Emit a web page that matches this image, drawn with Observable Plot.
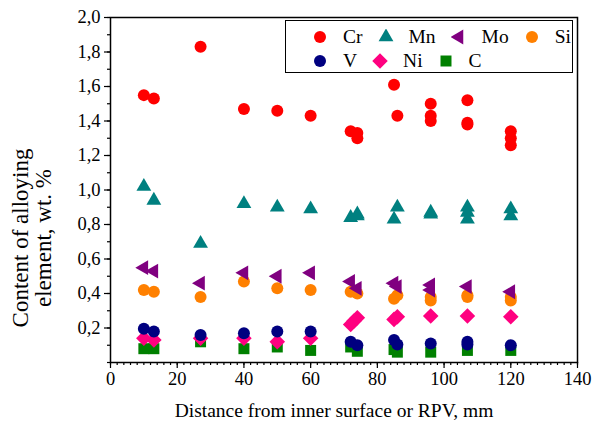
<!DOCTYPE html>
<html>
<head>
<meta charset="utf-8">
<script src="https://cdn.jsdelivr.net/npm/d3@7"></script>
<script src="https://cdn.jsdelivr.net/npm/@observablehq/plot@0.6"></script>
<style>
  body { margin: 0; background: #fff; }
  #wrap { position: relative; width: 593px; height: 427px; font-family: "Liberation Serif", "DejaVu Serif", serif; }
  #legend { position: absolute; left: 285px; top: 20px; width: 288px; height: 53px; box-sizing: border-box;
            border: 1.3px solid #000; background: #fff; padding: 4px 0 0 26px; font-size: 19.5px; color: #000; }
  .row { display: flex; align-items: center; height: 24px; }
  .row svg { width: 16px; height: 16px; margin-right: 15px; flex: none; }
  .row span { margin-right: 15px; line-height: 24px; }
</style>
</head>
<body>
<div id="wrap"></div>
<script>
// Data: [distance mm, content wt.%]
const Cr = [[10,1.55],[13,1.53],[27,1.83],[40,1.47],[50,1.46],[60,1.43],[72,1.34],[74,1.33],[74,1.30],
            [85,1.61],[86,1.43],[96,1.50],[96,1.43],[96,1.40],[107,1.52],[107,1.39],[107,1.38],[120,1.34],[120,1.30],[120,1.26]];
const Mn = [[10,1.02],[13,0.94],[27,0.69],[40,0.92],[50,0.90],[60,0.89],[72,0.84],[74,0.86],[74,0.85],
            [85,0.83],[86,0.90],[96,0.87],[96,0.86],[107,0.90],[107,0.87],[107,0.83],[120,0.89],[120,0.85]];
const Mo = [[10,0.55],[13,0.53],[27,0.46],[40,0.52],[50,0.50],[60,0.52],[72,0.47],[74,0.43],
            [85,0.46],[86,0.44],[96,0.45],[96,0.42],[107,0.44],[120,0.41]];
const Si = [[10,0.42],[13,0.41],[27,0.38],[40,0.47],[50,0.43],[60,0.42],[72,0.41],[74,0.40],
            [85,0.37],[86,0.39],[96,0.36],[96,0.38],[107,0.39],[107,0.38],[120,0.36],[120,0.38]];
const V  = [[10,0.195],[13,0.18],[27,0.16],[40,0.17],[50,0.18],[60,0.18],[72,0.12],[74,0.10],
            [85,0.13],[86,0.105],[96,0.11],[107,0.12],[107,0.105],[120,0.10]];
const Ni = [[10,0.14],[13,0.13],[27,0.14],[40,0.14],[50,0.12],[60,0.14],[72,0.22],[73,0.24],[74,0.26],
            [85,0.25],[86,0.265],[96,0.27],[107,0.27],[120,0.265]];
const C  = [[10,0.08],[13,0.08],[27,0.12],[40,0.08],[50,0.09],[60,0.07],[72,0.09],[74,0.065],
            [85,0.075],[86,0.06],[96,0.06],[107,0.07],[120,0.07]];

const xMajor = d3.range(0, 141, 20);
const xMinor = d3.range(0, 141, 2);
const yMajor = [0.2, 0.4, 0.6, 0.8, 1.0, 1.2, 1.4, 1.6, 1.8, 2.0];
const yMinor = d3.range(0, 21, 1).map(d => d / 10);

const xTitle = "Distance from inner surface or RPV, mm";
const yTitle = "Content of alloying\nelement, wt. %";

const series = [
  {name: "Cr", data: Cr, color: "#ff0000", symbol: "circle",   r: 6.0, rotate: 0},
  {name: "Mn", data: Mn, color: "#008080", symbol: "triangle", r: 5.5, rotate: 0},
  {name: "Mo", data: Mo, color: "#800080", symbol: "triangle", r: 5.5, rotate: -90},
  {name: "Si", data: Si, color: "#ff8000", symbol: "circle",   r: 6.0, rotate: 0},
  {name: "V",  data: V,  color: "#000080", symbol: "circle",   r: 6.0, rotate: 0},
  {name: "Ni", data: Ni, color: "#ff0080", symbol: "diamond2", r: 7.0, rotate: 0},
  {name: "C",  data: C,  color: "#008000", symbol: "square",   r: 6.2, rotate: 0}
];

const fmt = d => d.toFixed(1).replace(".", ",");
const FONT = "'Liberation Serif', 'DejaVu Serif', serif";

const dotMarks = series.slice().reverse().map(s =>
  Plot.dot(s.data, {x: d => d[0], y: d => d[1], fill: s.color, stroke: "none",
    symbol: () => s.symbol, r: s.r, rotate: s.rotate})
);

const chart = Plot.plot({
  width: 593, height: 427,
  marginLeft: 110, marginRight: 16, marginTop: 17, marginBottom: 65,
  x: {domain: [0, 140]},
  y: {domain: [0, 2]},
  symbol: {type: "identity"},
  style: {fontFamily: FONT, fontSize: "18.5px", color: "#000", background: "#fff"},
  marks: [
    Plot.axisX(xMinor, {tickSize: 3, tickFormat: () => "", label: null, strokeWidth: 1.2}),
    Plot.axisX(xMajor, {tickSize: 6, tickPadding: 3, label: null, strokeWidth: 1.2, fontSize: 18.5}),
    Plot.axisY(yMinor, {tickSize: 3, tickFormat: () => "", label: null, strokeWidth: 1.2}),
    Plot.axisY(yMajor, {tickSize: 6, tickPadding: 4, tickFormat: fmt, label: null, strokeWidth: 1.2, fontSize: 18.5}),
    Plot.frame({stroke: "#000", strokeWidth: 1.5}),
    ...dotMarks,
    Plot.text([xTitle], {frameAnchor: "bottom", dx: -10, dy: 54, fontSize: 19.5, text: d => d}),
    Plot.text([yTitle], {frameAnchor: "left", textAnchor: "middle", dx: -78, dy: 48, rotate: -90,
      fontSize: 23, lineHeight: 0.97, text: d => d})
  ]
});

const wrap = document.getElementById("wrap");
wrap.appendChild(chart);

// Legend
const legend = document.createElement("div");
legend.id = "legend";
const rows = [series.slice(0, 4), series.slice(4)];
for (const r of rows) {
  const row = document.createElement("div");
  row.className = "row";
  for (const s of r) {
    const symType = {circle: d3.symbolCircle, triangle: d3.symbolTriangle, diamond2: d3.symbolDiamond2, square: d3.symbolSquare}[s.symbol];
    const path = d3.symbol(symType, s.r * s.r * Math.PI)();
    const svg = d3.create("svg").attr("viewBox", "-8 -8 16 16");
    svg.append("path").attr("d", path).attr("fill", s.color).attr("transform", `rotate(${s.rotate})`);
    row.appendChild(svg.node());
    const span = document.createElement("span");
    span.textContent = s.name;
    row.appendChild(span);
  }
  legend.appendChild(row);
}
wrap.appendChild(legend);
</script>
</body>
</html>
